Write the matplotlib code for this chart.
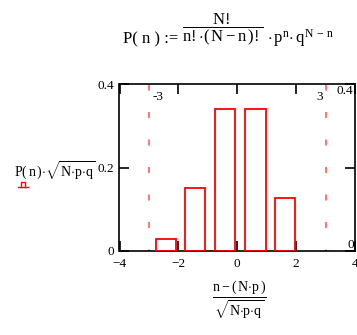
import numpy as np
import matplotlib
matplotlib.use("Agg")
import matplotlib.pyplot as plt
from matplotlib.lines import Line2D

plt.rcParams['font.family'] = ['Liberation Serif', 'DejaVu Serif']
plt.rcParams['mathtext.fontset'] = 'custom'
plt.rcParams['mathtext.rm'] = 'Liberation Serif'
plt.rcParams['mathtext.it'] = 'Liberation Serif'
plt.rcParams['mathtext.bf'] = 'Liberation Serif'

# standardized binomial probabilities
z = [-2.41, -1.42, -0.43, 0.62, 1.62]
height = [0.027, 0.150, 0.340, 0.340, 0.127]
bar_width = 0.68

# 3-sigma markers
markers = [-3, 3]
marker_labels = ["-3", "3"]

xticks = [-4, -2, 0, 2, 4]
xtick_labels = ["\u22124", "\u22122", "0", "2", "4"]
yticks = [0, 0.2, 0.4]
ytick_labels = ["0", "0.2", "0.4"]

fig = plt.figure(figsize=(3.57, 3.35), dpi=100)
ax = fig.add_axes([119.5/357, 84.3/335, 235.5/357, 166.4/335])

ax.bar(z, height, width=bar_width, align='center', fill=False,
       edgecolor='red', linewidth=1.3, zorder=3)

for m in markers:
    ax.axvline(m, color='#ff5050', linewidth=1.1, linestyle=(3, (4, 14)), zorder=2)

ax.set_xlim(xticks[0], xticks[-1])
ax.set_ylim(yticks[0], yticks[-1])
ax.set_xticks(xticks)
ax.set_xticklabels(xtick_labels)
ax.set_yticks(yticks)
ax.set_yticklabels(ytick_labels)
ax.tick_params(direction='in', length=7.5, width=1.2, top=True, right=True,
               labelsize=9.5, pad=4)
ax.tick_params(axis='x', pad=5)
for s in ax.spines.values():
    s.set_linewidth(1.2)

# marker values
ax.text(markers[0] + 0.12, 0.385, marker_labels[0], ha='left', va='top', fontsize=9.5)
ax.text(markers[1] - 0.1, 0.383, marker_labels[1], ha='right', va='top', fontsize=9.5)
# y range shown inside right edge
ax.text(3.93, 0.399, ytick_labels[-1], ha='right', va='top', fontsize=9.5)
ax.text(3.97, 0.0, ytick_labels[0], ha='right', va='bottom', fontsize=9.5)

# defining formula
fig.text(123/357, 1 - 43/335, 'P( n ) :=', ha='left', va='baseline', fontsize=12)
fig.text(182/357, 1 - 29.5/335, r'$\dfrac{N!}{n!{\cdot}(\,N-n\,)!}$',
         ha='left', va='center', fontsize=12)
fig.text(267/357, 1 - 43/335, r'${\cdot}\,p^{n}{\cdot}\,q^{N\,-\,n}$',
         ha='left', va='baseline', fontsize=12)

# axis labels
fig.text(14/357, 1 - 171/335, r'$P(\,n\,){\cdot}\sqrt{N{\cdot}p{\cdot}q}$',
         ha='left', va='center', fontsize=10)
fig.text(239/357, 1 - 300/335, r'$\dfrac{n-(\,N{\cdot}p\,)}{\sqrt{N{\cdot}p{\cdot}q}}$',
         ha='center', va='center', fontsize=10)

# trace legend glyph under the y label
def px(x, y):
    return x/357, 1 - y/335

for xs, ys in [([18, 28], [186.5, 186.5]),
               ([21, 21, 25, 25], [186.5, 181.5, 181.5, 186.5])]:
    pts = [px(a, b) for a, b in zip(xs, ys)]
    fig.add_artist(Line2D([p[0] for p in pts], [p[1] for p in pts],
                          color='red', linewidth=1.0, transform=fig.transFigure))

fig.savefig("out.png", dpi=100)
